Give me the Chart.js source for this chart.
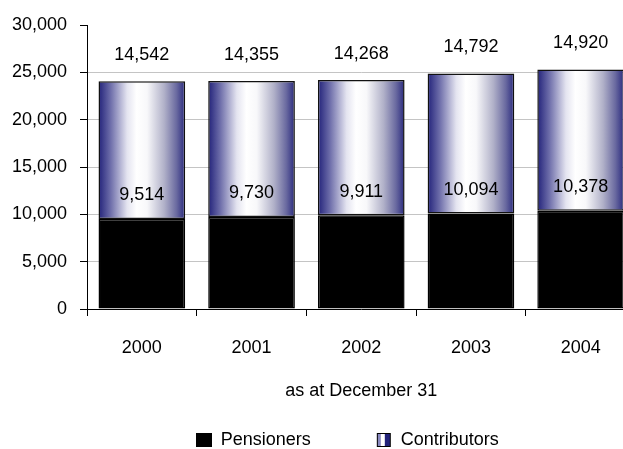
<!DOCTYPE html>
<html>
<head>
<meta charset="utf-8">
<script src="https://cdn.jsdelivr.net/npm/chart.js@4/dist/chart.umd.min.js"></script>
<style>
  html, body { margin: 0; padding: 0; background: #fff; overflow: hidden; }
  #wrap { width: 640px; height: 459px; }
</style>
</head>
<body>
<div id="wrap"><canvas id="chart" width="640" height="459"></canvas></div>
<script>
// values
const years = ['2000', '2001', '2002', '2003', '2004']
const pensioners = [9514, 9730, 9911, 10094, 10378]
const contributors = [14542, 14355, 14268, 14792, 14920]
const yMax = 30000
const yStep = 5000

const FONT = "'Liberation Sans', Arial, sans-serif"
const NAVY = '#22227a'
const BAR_PCT = 0.79

// horizontal navy-white-navy gradient for each contributors bar
const contributorsFill = (context) => {
  const { chart, dataIndex } = context
  const xs = chart.scales.x
  if (!xs || dataIndex === undefined) return NAVY
  const cx = xs.getPixelForValue(dataIndex)
  const half = (xs.width / years.length) * BAR_PCT / 2
  const g = chart.ctx.createLinearGradient(cx - half, 0, cx + half, 0)
  g.addColorStop(0, NAVY)
  g.addColorStop(0.14, '#6e6eaa')
  g.addColorStop(0.33, '#e4e4f0')
  g.addColorStop(0.44, '#ffffff')
  g.addColorStop(0.56, '#f8f8fa')
  g.addColorStop(0.76, '#b0b0c8')
  g.addColorStop(0.9, '#6a6aa0')
  g.addColorStop(1, '#2a2a7e')
  return g
}

// legend swatches
const makeSwatch = (draw) => {
  const c = document.createElement('canvas')
  c.width = 16
  c.height = 14
  draw(c.getContext('2d'))
  return c
}
const pensSwatch = makeSwatch((g) => {
  g.fillStyle = '#000'
  g.fillRect(0, 0, 16, 14)
})
const contribSwatch = makeSwatch((g) => {
  g.fillStyle = '#000'
  g.fillRect(1, 0, 14, 14)
  g.fillStyle = '#8a8ac0'
  g.fillRect(2, 1, 3, 12)
  g.fillStyle = '#fff'
  g.fillRect(5, 1, 4, 12)
  g.fillStyle = NAVY
  g.fillRect(9, 1, 5, 12)
})

// value labels above each segment end
const valueLabels = {
  id: 'valueLabels',
  afterDatasetsDraw(chart) {
    const { ctx } = chart
    ctx.save()
    ctx.font = '18px ' + FONT
    ctx.fillStyle = '#000'
    ctx.textAlign = 'center'
    ctx.textBaseline = 'middle'
    chart.data.datasets.forEach((ds, i) => {
      const meta = chart.getDatasetMeta(i)
      const lift = i === 0 ? 23.5 : 26
      meta.data.forEach((bar, j) => {
        ctx.fillText(ds.data[j].toLocaleString('en-US'), bar.x, bar.y - lift)
      })
    })
    ctx.restore()
  },
}

// nudge the legend a bit left, the original was centred on a wider page
const legendNudge = {
  id: 'legendNudge',
  afterLayout(chart) {
    chart.legend.left -= 14
    chart.legend.right -= 14
  },
}

new Chart(document.getElementById('chart'), {
  type: 'bar',
  data: {
    labels: years,
    datasets: [
      {
        label: 'Pensioners',
        data: pensioners,
        backgroundColor: '#000',
        borderColor: '#000',
        borderWidth: 1.5,
        borderSkipped: false,
      },
      {
        label: 'Contributors',
        data: contributors,
        backgroundColor: contributorsFill,
        borderColor: '#111',
        borderWidth: 1.5,
        borderSkipped: false,
      },
    ],
  },
  options: {
    responsive: false,
    animation: false,
    devicePixelRatio: 1,
    barPercentage: BAR_PCT,
    categoryPercentage: 1,
    layout: { padding: { left: 0, right: 4.5, top: 25, bottom: 0 } },
    plugins: {
      legend: {
        position: 'bottom',
        fullSize: false,
        labels: {
          color: '#000',
          font: { size: 18, family: FONT },
          usePointStyle: true,
          boxWidth: 16,
          boxHeight: 14,
          padding: 65,
          generateLabels: (chart) => {
            const items = Chart.defaults.plugins.legend.labels.generateLabels(chart)
            items[0].pointStyle = pensSwatch
            items[1].pointStyle = contribSwatch
            return items
          },
        },
      },
      tooltip: { enabled: false },
    },
    scales: {
      x: {
        stacked: true,
        afterFit: (scale) => { scale.height = 57 },
        border: { display: true, color: '#000', width: 1 },
        grid: {
          drawOnChartArea: false,
          drawTicks: true,
          tickLength: 7,
          tickColor: '#000',
          offset: true,
        },
        ticks: {
          color: '#000',
          padding: 21,
          font: { size: 18, family: FONT },
        },
        title: {
          display: true,
          text: 'as at December 31',
          color: '#000',
          font: { size: 18, family: FONT },
          padding: { top: 0, bottom: -35.8 },
        },
      },
      y: {
        stacked: true,
        min: 0,
        max: yMax,
        afterFit: (scale) => { scale.width = 87 },
        border: { display: true, color: '#000', width: 1 },
        grid: {
          color: (ctx) => (ctx.tick && ctx.tick.value === yMax ? 'rgba(0,0,0,0)' : '#c4c4c4'),
          lineWidth: 1,
          drawTicks: true,
          tickLength: 7,
          tickColor: '#000',
        },
        ticks: {
          stepSize: yStep,
          color: '#000',
          padding: 13,
          font: { size: 18, family: FONT },
          callback: (v) => v.toLocaleString('en-US'),
        },
      },
    },
  },
  plugins: [valueLabels, legendNudge],
})
</script>
</body>
</html>
